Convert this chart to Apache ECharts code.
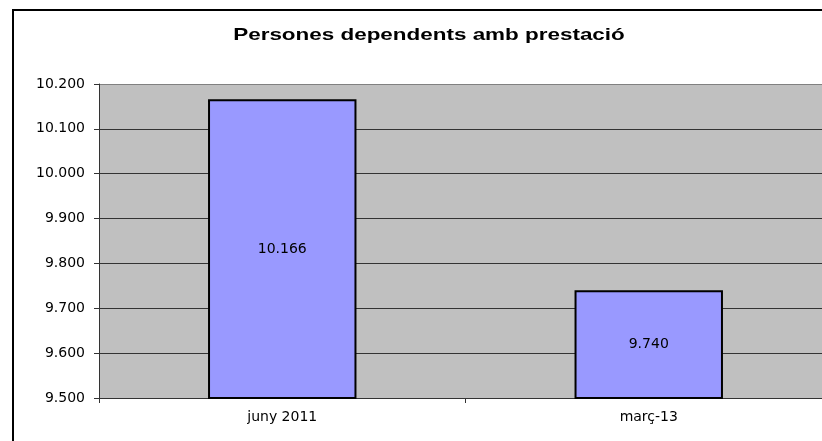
<!DOCTYPE html>
<html>
<head>
<meta charset="utf-8">
<script src="https://cdn.jsdelivr.net/npm/echarts@6/dist/echarts.min.js"></script>
<style>html,body{margin:0;padding:0;background:#fff;}#c{width:822px;height:441px;}</style>
</head>
<body>
<div id="c"></div>
<script>
const titleText = 'Persones dependents amb prestació';
const categories = ['juny 2011', 'març-13'];
const values = [10166, 9740];
const yMin = 9500, yMax = 10200, yStep = 100;

function fmt(v) {
  const s = String(Math.round(v));
  return s.replace(/\B(?=(\d{3})+(?!\d))/g, '.');
}

const labelFont = 'DejaVu Sans, Liberation Sans, Arial';
const chart = echarts.init(document.getElementById('c'), null, {renderer: 'canvas'});
chart.setOption({
  animation: false,
  backgroundColor: '#fff',
  graphic: [{
    type: 'rect', z: 100,
    shape: {x: 13, y: 10, width: 830, height: 450},
    style: {fill: 'none', stroke: '#000', lineWidth: 2}
  }, {
    type: 'text', x: 429, y: 35, scaleX: 1.32, z: 100,
    style: {text: titleText, font: 'bold 17px "Liberation Sans", Arial', fill: '#000',
      textAlign: 'center', textVerticalAlign: 'middle'}
  }],
  grid: {left: 99, width: 733, top: 84, bottom: 43, backgroundColor: '#C0C0C0', show: true, borderWidth: 0,
    outerBoundsMode: 'none', containLabel: false},
  xAxis: {
    type: 'category', data: categories,
    axisLine: {lineStyle: {color: '#333', width: 1}},
    axisTick: {show: true, length: 5, lineStyle: {color: '#333'}},
    axisLabel: {fontFamily: labelFont, fontSize: 14, color: '#000', margin: 12}
  },
  yAxis: {
    type: 'value', min: yMin, max: yMax, interval: yStep,
    axisLine: {show: true, lineStyle: {color: '#333', width: 1}},
    axisTick: {show: true, length: 5, lineStyle: {color: '#333'}},
    splitLine: {show: true, lineStyle: {color: ['#333', '#333', '#333', '#333', '#333', '#333', '#333', '#808080'], width: 1}},
    axisLabel: {fontFamily: labelFont, fontSize: 14, color: '#000', margin: 14, formatter: fmt}
  },
  series: [{
    type: 'bar', data: values, barWidth: '40.5%',
    itemStyle: {color: '#9999FF', borderColor: '#000', borderWidth: 2},
    label: {show: true, position: 'inside', formatter: p => fmt(p.value),
      fontFamily: labelFont, fontSize: 14, color: '#000'}
  }]
});
</script>
</body>
</html>
